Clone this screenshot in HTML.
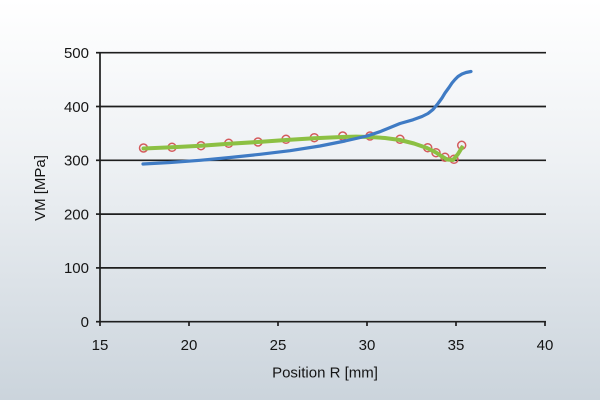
<!DOCTYPE html>
<html><head><meta charset="utf-8"><style>
html,body{margin:0;padding:0;}
body{width:600px;height:400px;overflow:hidden;background:linear-gradient(to bottom,#ffffff 0%,#eef1f4 40%,#cbd4dc 100%);}
svg{display:block;font-family:"Liberation Sans",sans-serif;}
</style></head><body>
<svg width="600" height="400" viewBox="0 0 600 400">
<g stroke="#1e1e1e" stroke-width="1.7" fill="none">
<line x1="100" y1="52.7" x2="546" y2="52.7"/>
<line x1="100" y1="106.5" x2="546" y2="106.5"/>
<line x1="100" y1="160.3" x2="546" y2="160.3"/>
<line x1="100" y1="214.1" x2="546" y2="214.1"/>
<line x1="100" y1="267.9" x2="546" y2="267.9"/>
<line x1="100" y1="321.7" x2="546" y2="321.7"/>
<line x1="100" y1="52" x2="100" y2="326"/>
<line x1="96" y1="52.7" x2="100" y2="52.7"/>
<line x1="96" y1="106.5" x2="100" y2="106.5"/>
<line x1="96" y1="160.3" x2="100" y2="160.3"/>
<line x1="96" y1="214.1" x2="100" y2="214.1"/>
<line x1="96" y1="267.9" x2="100" y2="267.9"/>
<line x1="96" y1="321.7" x2="100" y2="321.7"/>
<line x1="189" y1="321.7" x2="189" y2="326"/>
<line x1="278" y1="321.7" x2="278" y2="326"/>
<line x1="367" y1="321.7" x2="367" y2="326"/>
<line x1="456" y1="321.7" x2="456" y2="326"/>
<line x1="545" y1="321.7" x2="545" y2="326"/>
</g>
<g font-size="15" fill="#151515" text-anchor="end">
<text x="89" y="58">500</text>
<text x="89" y="111.8">400</text>
<text x="89" y="165.6">300</text>
<text x="89" y="219.4">200</text>
<text x="89" y="273.2">100</text>
<text x="89" y="327">0</text>
</g>
<g font-size="15" fill="#151515" text-anchor="middle">
<text x="100" y="350">15</text>
<text x="189" y="350">20</text>
<text x="278" y="350">25</text>
<text x="367" y="350">30</text>
<text x="456" y="350">35</text>
<text x="545" y="350">40</text>
<text x="325" y="377.5">Position R [mm]</text>
<text x="0" y="0" transform="translate(45,188) rotate(-90)">VM [MPa]</text>
</g>
<polyline fill="none" stroke="#d45a5c" stroke-width="1.2" points="143.5,148 172,147.3 201,145.7 228.7,143.3 258,142 286,139.3 314.3,137.7 342.7,136 370,136 400,139.3 427.7,147.7 436,152.7 445,157.3 454,159.3 461.7,145.3"/>
<g fill="none" stroke="#d45a5c" stroke-width="1.5">
<circle cx="143.5" cy="148" r="4"/>
<circle cx="172" cy="147.3" r="4"/>
<circle cx="201" cy="145.7" r="4"/>
<circle cx="228.7" cy="143.3" r="4"/>
<circle cx="258" cy="142" r="4"/>
<circle cx="286" cy="139.3" r="4"/>
<circle cx="314.3" cy="137.7" r="4"/>
<circle cx="342.7" cy="136" r="4"/>
<circle cx="370" cy="136" r="4"/>
<circle cx="400" cy="139.3" r="4"/>
<circle cx="427.7" cy="147.7" r="4"/>
<circle cx="436" cy="152.7" r="4"/>
<circle cx="445" cy="157.3" r="4"/>
<circle cx="454" cy="159.3" r="4"/>
<circle cx="461.7" cy="145.3" r="4"/>
</g>
<polyline fill="none" stroke="#8cc043" stroke-width="4" stroke-linejoin="round" stroke-linecap="round" points="143.5,148.5 172,147.3 201,145.7 229,143.8 258,142 286,140 314,138.3 342,137 356,136.6 370,137 385,138 400,140 414,143.5 427,148 436,152.5 442,156.5 447,159.5 453,160 458,154 462,147.5"/>
<polyline fill="none" stroke="#3f7bc4" stroke-width="3.2" stroke-linejoin="round" stroke-linecap="round" points="143,164 170,162.5 200,160.3 230,157.5 260,154.3 290,150.7 320,146 345,141 367,136 380,131.7 400,123.5 413,119.8 422,116.5 428,113.5 433,109.5 438,103.5 442,98 445,93 449,87.5 452,83 455,79.5 458,76.5 462,74 466,72.5 471,71.5"/>
</svg>
</body></html>
